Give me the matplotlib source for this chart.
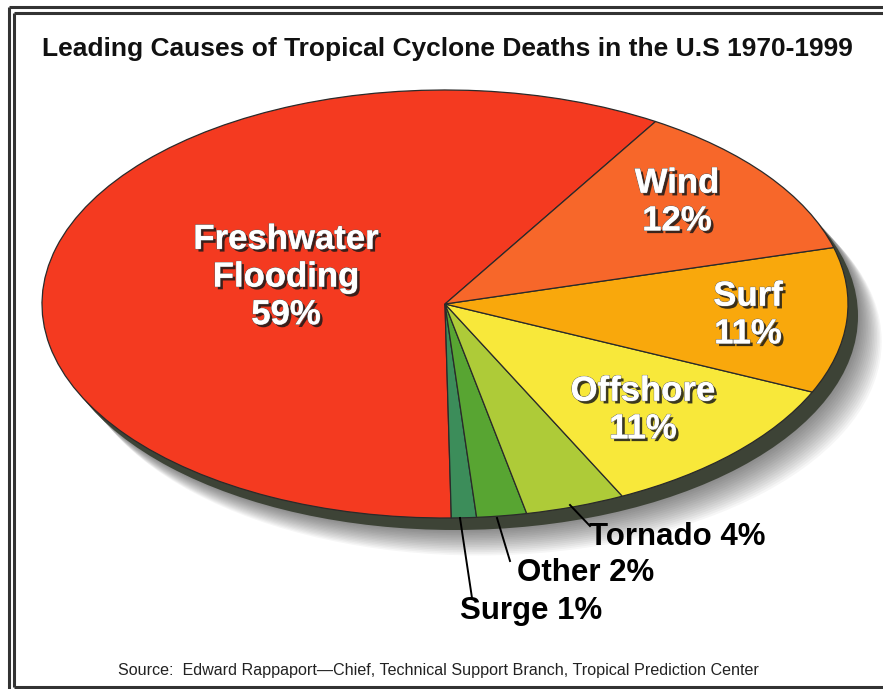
import matplotlib
matplotlib.use("Agg")
import matplotlib.pyplot as plt
import matplotlib.patheffects as pe
from matplotlib.patches import Ellipse
import numpy as np

plt.rcParams['font.family'] = ['Liberation Sans', 'DejaVu Sans']

# ---- data ----
categories = ["Freshwater Flooding", "Surge", "Other", "Tornado", "Offshore", "Surf", "Wind"]
values = [59, 1, 2, 4, 11, 11, 12]
colors = ["#F43A20", "#3C8D5A", "#58A532", "#AECB38", "#F8E83A", "#F9A80C", "#F7672A"]
inside_labels = {"Freshwater Flooding": "Freshwater\nFlooding\n59%",
                 "Wind": "Wind\n12%", "Surf": "Surf\n11%", "Offshore": "Offshore\n11%"}
outside_labels = {"Tornado": "Tornado 4%", "Other": "Other 2%", "Surge": "Surge 1%"}
title = "Leading Causes of Tropical Cyclone Deaths in the U.S 1970-1999"
source = "Source:  Edward Rappaport\u2014Chief, Technical Support Branch, Tropical Prediction Center"

W, H = 883, 689
fig = plt.figure(figsize=(W / 100, H / 100), dpi=100)
fig.patch.set_facecolor("white")

# background axes in pixel coords
bg = fig.add_axes([0, 0, 1, 1])
bg.set_xlim(0, W)
bg.set_ylim(H, 0)
bg.axis("off")

# frame lines
lc = "#333333"
bg.plot([9, 9], [7, H], color=lc, lw=2.2, solid_capstyle="butt")
bg.plot([9, W], [7, 7], color=lc, lw=2.2, solid_capstyle="butt")
bg.plot([14, 14], [13, 687], color=lc, lw=2.2, solid_capstyle="butt")
bg.plot([14, W], [13, 13], color=lc, lw=2.2, solid_capstyle="butt")
bg.plot([14, W], [687, 687], color=lc, lw=2.2, solid_capstyle="butt")

# pie geometry (pixels)
cx, cy, a, b = 445, 304, 403, 214

# soft shadow
for i in range(16):
    off = 12 + i * 1.7
    bg.add_patch(Ellipse((cx + off * 0.9, cy + off), 2 * a, 2 * b,
                         facecolor="#000000", alpha=0.035, lw=0, zorder=1))
# dark rim
bg.add_patch(Ellipse((cx + 10, cy + 12), 2 * a, 2 * b, facecolor="#3D4336",
                     lw=0, zorder=2))

# pie axes
pax = fig.add_axes([(cx - a) / W, (H - cy - b) / H, 2 * a / W, 2 * b / H])
pax.set_zorder(3)
pax.patch.set_alpha(0)
wedges, _ = pax.pie(values, colors=colors, startangle=58.5, counterclock=True,
                    wedgeprops=dict(edgecolor="#2a2a2a", linewidth=0.9),
                    radius=1.0)
pax.set_xlim(-1, 1)
pax.set_ylim(-1, 1)
pax.set_aspect("auto")
pax.axis("off")

# text axes on top
tx = fig.add_axes([0, 0, 1, 1])
tx.set_zorder(4)
tx.patch.set_alpha(0)
tx.set_xlim(0, W)
tx.set_ylim(H, 0)
tx.axis("off")

shadow = [pe.withSimplePatchShadow(offset=(2.0, -2.0), shadow_rgbFace="#1a1a1a", alpha=0.85),
          pe.withStroke(linewidth=0.8, foreground="#666666"),
          pe.Normal()]

inside_pos = {"Freshwater Flooding": (286, 277), "Wind": (677, 202),
              "Surf": (748, 315), "Offshore": (643, 410)}
for k, txt in inside_labels.items():
    x, y = inside_pos[k]
    tx.text(x, y, txt, ha="center", va="center", fontsize=25, fontweight="bold",
            color="white", linespacing=1.18, path_effects=shadow)

outside_pos = {"Tornado": (677, 537), "Other": (586, 573), "Surge": (531, 611)}
leader = {"Tornado": ((570, 505), (590, 526)), "Other": ((497, 518), (510, 561)),
          "Surge": ((460, 518), (472, 598))}
for k, txt in outside_labels.items():
    x, y = outside_pos[k]
    tx.text(x, y, txt, ha="center", va="center", fontsize=22.5, fontweight="bold",
            color="black")
    (x0, y0), (x1, y1) = leader[k]
    tx.plot([x0, x1], [y0, y1], color="black", lw=1.4)

tx.text(447, 49, title, ha="center", va="center", fontsize=19, fontweight="bold",
        color="#111111")
tx.text(438, 670, source, ha="center", va="center", fontsize=11.6, color="#222222")

fig.savefig("out.png", dpi=100, facecolor="white")
